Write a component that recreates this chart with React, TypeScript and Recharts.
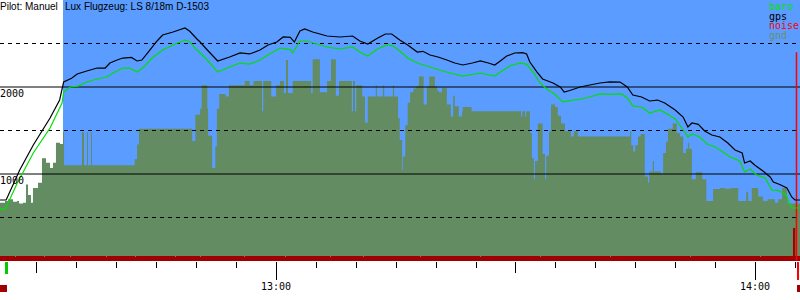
import { Area, ComposedChart, Legend, Line, ReferenceLine, XAxis, YAxis } from "recharts";

// times are minutes after 12:00
const chartStart = 25.43;
const chartEnd = 125.64;
const takeoff = 33.32;
const logStart = 26.2;
const landing = 125.2;

const gndTimes = [
  25.43, 26.06, 26.43, 27.06, 27.56, 27.81, 28.31, 28.69, 28.94, 29.31, 29.56, 30.19, 30.69, 31.19, 31.69, 32.07,
  32.44, 32.95, 33.32, 33.45, 35.7, 35.95, 36.33, 36.45, 36.83, 36.95, 42.3, 42.6, 42.84, 49.5, 49.9, 50.5, 50.7,
  51.4, 51.5, 52.0, 52.4, 52.6, 52.9, 53.7, 54.1, 56.1, 56.7, 57.2, 58.25, 58.4, 59.4, 60.0, 60.5, 61.0, 61.25, 61.5,
  62.1, 64.4, 64.6, 65.5, 66.4, 66.9, 67.5, 67.9, 69.5, 69.65, 69.9, 70.05, 70.8, 71.15, 71.5, 72.5, 72.65, 73.4,
  73.55, 74.65, 74.8, 75.3, 75.5, 75.8, 75.9, 76.2, 76.5, 76.8, 77.2, 77.5, 77.9, 78.5, 78.9, 79.2, 79.9, 80.2, 80.4,
  80.8, 81.4, 81.9, 82.2, 82.4, 82.9, 83.3, 83.4, 84.5, 90.7, 90.85, 91.2, 91.35, 91.8, 92.05, 92.3, 92.45, 92.8,
  93.4, 93.7, 93.85, 94.2, 94.45, 94.95, 95.3, 95.7, 96.2, 96.95, 97.3, 97.8, 104.35, 104.5, 104.75, 105.0, 105.35,
  105.7, 106.2, 106.6, 106.75, 107.2, 107.35, 108.2, 108.5, 108.85, 109.1, 109.7, 110.2, 110.6, 111.0, 111.35, 111.6,
  111.75, 112.1, 112.6, 113.4, 113.9, 114.75, 115.6, 116.2, 117.0, 117.9, 118.9, 119.15, 119.6, 120.4, 121.0, 121.6,
  122.5, 122.9, 123.4, 124.0, 124.1, 125.64,
];
const gndHeights = [
  670, 690, 710, 680, 690, 660, 670, 880, 760, 670, 840, 900, 1180, 1130, 1070, 1130,
  1360, 1345, 1480, 1100, 1480, 1100, 1480, 1100, 1480, 1100, 1170, 1340, 1520, 1380, 1680, 1750, 2020,
  1750, 1440, 1070, 1320, 1750, 1920, 1890, 2020, 2070, 2020, 2070, 1720, 2070, 1890, 2020, 2070, 1930, 2310, 1930,
  2070, 1930, 2320, 1940, 2070, 2320, 1900, 2070, 1720, 2070, 1720, 2020, 1890, 1590, 1890, 2020, 1890, 2020,
  1890, 2020, 1890, 1640, 1390, 1050, 1200, 1560, 1820, 1940, 1980, 2010, 2120, 1800, 2010, 2120, 2010, 1960, 1940,
  1990, 1800, 1660, 1900, 1780, 1660, 1720, 1770, 1720, 1660, 1720, 1660, 1720, 1470, 1180, 940, 1150, 1580,
  1230, 940, 1210, 1490, 1800, 1770, 1670, 1580, 1490, 1430, 1490, 1430, 1490, 1330, 1260, 1330, 1430,
  1460, 970, 900, 1030, 1150, 1030, 1010, 1240, 1370, 1520, 1580, 1470, 1430, 1240, 1290, 1360,
  1290, 940, 1020, 940, 690, 828, 840, 830, 840, 690, 790, 690, 840, 740, 690, 710,
  670, 710, 840, 740, 660, 660,
];

const gpsTimes = [
  25.43, 26.2, 27.9, 29.6, 31.7, 32.9, 33.4, 34.4, 35.1, 36.3, 37.6, 38.6, 39.2, 40.1, 40.8, 41.9, 42.6, 43.2, 44.0,
  45.1, 45.8, 47.1, 48.6, 49.2, 50.1, 50.5, 51.4, 52.7, 54.2, 55.5, 56.7, 58.0, 59.0, 60.1, 60.9, 61.8, 62.3, 63.0,
  63.6, 64.6, 66.4, 68.0, 69.6, 70.5, 71.5, 72.7, 73.7, 74.5, 75.5, 76.5, 77.7, 78.4, 79.3, 80.3, 81.4, 82.4, 83.4,
  84.6, 85.6, 86.6, 87.4, 88.1, 88.9, 89.9, 90.9, 91.4, 91.8, 92.7, 93.4, 94.7, 95.6, 96.1, 96.8, 98.1, 99.3, 100.6,
  101.8, 103.1, 104.0, 104.7, 105.8, 106.8, 107.8, 108.7, 110.0, 111.0, 111.6, 112.1, 112.9, 113.7, 114.6, 115.6,
  116.6, 117.5, 118.4, 118.7, 119.4, 120.0, 121.0, 121.9, 122.3, 123.1, 124.0, 124.6, 125.0, 125.64,
];
const gpsHeights = [
  701, 701, 1045, 1333, 1644, 1851, 2057, 2100, 2149, 2184, 2218, 2218, 2276, 2310, 2333, 2340, 2299, 2310, 2402,
  2529, 2598, 2632, 2678, 2640, 2552, 2517, 2425, 2299, 2345, 2391, 2380, 2425, 2483, 2517, 2575, 2570, 2517, 2644,
  2667, 2632, 2586, 2575, 2586, 2529, 2494, 2560, 2609, 2609, 2540, 2483, 2402, 2410, 2368, 2345, 2310, 2276, 2253,
  2276, 2299, 2276, 2253, 2300, 2356, 2391, 2395, 2380, 2287, 2172, 2092, 2046, 2000, 1942, 1960, 2000, 2023, 2046,
  2060, 2057, 2000, 1908, 1885, 1839, 1850, 1816, 1736, 1655, 1540, 1586, 1570, 1494, 1448, 1425,
  1356, 1276, 1241, 1126, 1149, 1100, 1034, 966, 908, 880, 839, 736, 701, 701,
];

const baroTimes = [
  25.43, 26.1, 27.6, 29.6, 31.7, 33.2, 33.4, 34.2, 35.2, 36.3, 37.6, 38.8, 39.8, 40.8, 41.7, 42.6, 43.3, 44.5, 45.8,
  47.1, 48.6, 49.2, 50.1, 50.5, 51.4, 52.7, 54.2, 55.5, 56.7, 58.0, 59.0, 60.5, 61.8, 62.1, 63.0, 63.9, 64.6, 66.4,
  68.0, 69.6, 70.5, 71.5, 72.7, 73.9, 74.7, 75.5, 76.5, 77.7, 79.3, 80.5, 81.8, 83.4, 85.6, 87.4, 88.1, 89.3, 90.6,
  91.4, 92.2, 93.1, 93.9, 94.9, 95.9, 97.2, 98.3, 99.3, 100.6, 101.8, 103.3, 104.0, 104.7, 105.8, 106.8, 108.1,
  109.0, 110.0, 111.2, 111.6, 112.1, 113.1, 114.0, 115.0, 116.0, 116.9, 118.1, 118.7, 119.4, 120.2, 121.3, 122.1,
  122.9, 123.8, 124.6, 125.64,
];
const baroHeights = [
  598, 598, 897, 1241, 1529, 1816, 1940, 2000, 2010, 2057, 2092, 2115, 2172, 2218, 2218, 2172, 2218, 2333, 2425,
  2483, 2540, 2520, 2425, 2391, 2310, 2172, 2230, 2276, 2264, 2310, 2368, 2448, 2430, 2391, 2529, 2529, 2506, 2460,
  2437, 2460, 2402, 2356, 2437, 2483, 2470, 2414, 2333, 2276, 2230, 2195, 2161, 2126, 2161, 2126, 2172, 2241, 2276,
  2260, 2172, 2046, 1977, 1920, 1828, 1850, 1862, 1885, 1920, 1915, 1920, 1874, 1782, 1770, 1701, 1736,
  1690, 1632, 1483, 1425, 1460, 1425, 1345, 1310, 1253, 1195, 1149, 1023, 1057, 989, 954, 816,
  810, 770, 609, 609,
];

const noiseTimes = [
  25.43, 27.31, 27.44, 30.94, 31.07, 34.2, 34.33, 38.71, 38.84, 42.34, 42.47, 47.35, 47.48, 50.48, 50.61, 55.99,
  56.12, 61.13, 61.26, 66.77, 66.9, 70.9, 71.03, 78.04, 78.17, 85.56, 85.69, 93.07, 93.2, 101.84, 101.97, 111.87,
  112.0, 120.63, 120.76, 124.76, 125.05, 125.64,
];
const noiseLevels = [
  57, 46, 57, 46, 57, 46, 57, 46, 57, 46, 57, 46, 57, 46, 57, 46,
  57, 46, 57, 46, 57, 46, 57, 46, 57, 46, 57, 46, 57, 46, 57, 46,
  57, 46, 57, 380, 57, 57,
];

const solidLevels = [1000, 2000];
const dashedLevels = [500, 1500, 2500];
const heightLabels = [1000, 2000];
const timeTicks = [30, 35, 40, 45, 50, 55, 60, 65, 70, 75, 80, 85, 90, 95, 100, 105, 110, 115, 120, 125];
const timeLabels: Record<number, string> = { 60: "13:00", 120: "14:00" };
const legendNames = ["baro", "gps", "noise", "gnd"];

const colors: Record<string, string> = {
  baro: "#00e000",
  gps: "#000000",
  noise: "#ff0000",
  gnd: "#6b8f6b",
};

const gndData = gndTimes.map((t, i) => ({ t, gnd: gndHeights[i] }));
const gpsData = gpsTimes.map((t, i) => ({ t, gps: gpsHeights[i] }));
const baroData = baroTimes.map((t, i) => ({ t, baro: baroHeights[i] }));
const noiseData = noiseTimes.map((t, i) => ({ t, noise: noiseLevels[i] }));
const skyData = [
  { t: takeoff, sky: 3000 },
  { t: chartEnd, sky: 3000 },
];

const mono = "DejaVu Sans Mono";

function TimeTick(props: any) {
  const { x, y, payload } = props;
  const v = payload.value;
  const px = Math.round(x) + 0.5;
  if (v === logStart) {
    return (
      <g>
        <rect x={Math.round(x) - 1} y={y + 1} width={3} height={12} fill="#00cc00" />
        <rect x={Math.round(x) - 6} y={y + 24} width={7} height={7} fill="#a00000" />
      </g>
    );
  }
  if (v === landing) {
    return (
      <g>
        <rect x={Math.round(x) + 1} y={y + 1} width={2} height={18} fill="#ff0000" />
        <rect x={Math.round(x) + 1} y={y + 24} width={7} height={7} fill="#a00000" />
      </g>
    );
  }
  const len = v % 60 === 0 ? 18 : v % 30 === 0 ? 11 : 6;
  return (
    <g>
      <line x1={px} x2={px} y1={y + 1} y2={y + 1 + len} stroke="#000" />
      {timeLabels[v] && (
        <text x={x} y={y + 29} textAnchor="middle" fontFamily={mono} fontSize={10} fill="#000">
          {timeLabels[v]}
        </text>
      )}
    </g>
  );
}

function HeightTick(props: any) {
  const { y, payload } = props;
  return (
    <text x={0} y={y + 10} fontFamily={mono} fontSize={10} fill="#000">
      {payload.value}
    </text>
  );
}

function LegendBox() {
  return (
    <div style={{ fontFamily: mono, fontSize: 10, lineHeight: "9.5px" }}>
      {legendNames.map((n) => (
        <div key={n} style={{ color: colors[n] }}>
          {n}
        </div>
      ))}
    </div>
  );
}

export default function App() {
  return (
    <div style={{ position: "absolute", left: 0, top: 0, width: 800, height: 300, background: "#fff" }}>
      <ComposedChart width={800} height={300} margin={{ top: 0, right: 0, bottom: 0, left: 0 }}>
        <XAxis
          type="number"
          dataKey="t"
          domain={[chartStart, chartEnd]}
          allowDataOverflow
          ticks={[...timeTicks, logStart, landing]}
          interval={0}
          height={39}
          axisLine={false}
          tickLine={false}
          tickSize={0}
          tickMargin={0}
          tick={(p: any) => <TimeTick {...p} />}
        />
        <YAxis
          type="number"
          domain={[0, 3000]}
          allowDataOverflow
          ticks={heightLabels}
          interval={0}
          mirror
          width={30}
          axisLine={false}
          tickLine={false}
          tick={(p: any) => <HeightTick {...p} />}
        />
        <Area
          data={skyData}
          dataKey="sky"
          type="linear"
          fill="#5a9cff"
          fillOpacity={1}
          stroke="none"
          dot={false}
          activeDot={false}
          legendType="none"
          isAnimationActive={false}
        />
        <Area
          data={gndData}
          dataKey="gnd"
          type="stepAfter"
          fill="#638c63"
          fillOpacity={1}
          stroke="none"
          dot={false}
          activeDot={false}
          isAnimationActive={false}
        />
        <Area
          data={noiseData}
          dataKey="noise"
          type="stepAfter"
          fill="#a00000"
          fillOpacity={1}
          stroke="none"
          dot={false}
          activeDot={false}
          isAnimationActive={false}
        />
        {solidLevels.map((v) => (
          <ReferenceLine key={v} y={v} stroke="#000" strokeWidth={1} />
        ))}
        {dashedLevels.map((v) => (
          <ReferenceLine key={v} y={v} stroke="#000" strokeWidth={1} strokeDasharray="4 4" />
        ))}
        <ReferenceLine
          segment={[
            { x: landing, y: 2400 },
            { x: landing, y: 0 },
          ]}
          stroke="#ff0000"
          strokeWidth={1.5}
        />
        <Line
          data={baroData}
          dataKey="baro"
          type="linear"
          stroke="#00e000"
          strokeWidth={1.2}
          dot={false}
          activeDot={false}
          isAnimationActive={false}
        />
        <Line
          data={gpsData}
          dataKey="gps"
          type="linear"
          stroke="#000000"
          strokeWidth={1.2}
          dot={false}
          activeDot={false}
          isAnimationActive={false}
        />
        <Legend
          layout="vertical"
          align="center"
          verticalAlign="middle"
          wrapperStyle={{ left: 769, top: 2, width: 31 }}
          content={() => <LegendBox />}
        />
      </ComposedChart>
      <div
        style={{
          position: "absolute",
          left: 0,
          top: 1,
          fontFamily: "Liberation Sans",
          fontSize: 10,
          lineHeight: "12px",
          color: "#000",
          whiteSpace: "nowrap",
        }}
      >
        <span>Pilot: Manuel</span>
        <span style={{ position: "absolute", left: 65 }}>Lux Flugzeug: LS 8/18m D-1503</span>
      </div>
    </div>
  );
}
